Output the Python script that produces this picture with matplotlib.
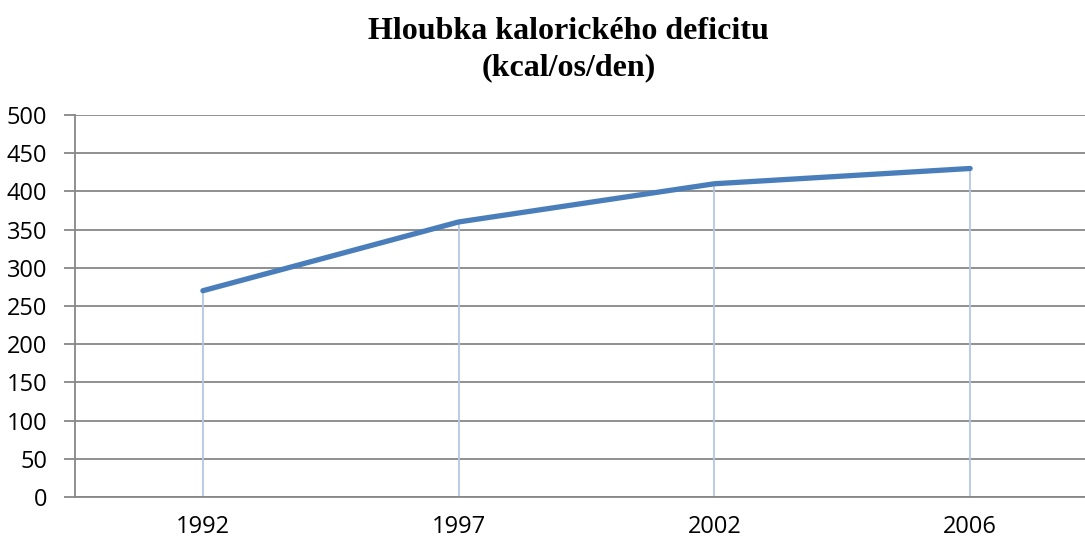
import numpy as np
import matplotlib.pyplot as plt

years = ['1992', '1997', '2002', '2006']
deficit = [270, 360, 410, 430]
yticks = [0, 50, 100, 150, 200, 250, 300, 350, 400, 450, 500]

fig = plt.figure(figsize=(10.85, 5.42), dpi=100)
ax = fig.add_axes([75/1085, 45/542, 1023/1085, 382/542])

x = np.arange(len(years))
grid_col = '#878787'

# drop lines
ax.vlines(x, 0, deficit, color='#b4c7e7', lw=1.3, zorder=2)
ax.plot(x, deficit, color='#4a7ebb', lw=3.8, solid_capstyle='round', zorder=3)

ax.set_xlim(-0.5, len(years) - 0.5)
ax.set_ylim(0, 500)
ax.set_yticks(yticks)
ax.set_xticks(x)
ax.set_xticklabels(years)
ax.yaxis.grid(True, color=grid_col, lw=1.3)
ax.set_axisbelow(True)

for s in ['top', 'right']:
    ax.spines[s].set_visible(False)
for s in ['left', 'bottom']:
    ax.spines[s].set_color(grid_col)
    ax.spines[s].set_linewidth(1.3)

ax.tick_params(axis='y', length=8, width=1.3, color=grid_col, pad=12,
               labelsize=17, labelcolor='black')
ax.tick_params(axis='x', length=0, pad=13, labelsize=17, labelcolor='black')
for lab in ax.get_xticklabels() + ax.get_yticklabels():
    lab.set_family(['Open Sans', 'DejaVu Sans'])

fig.text(0.524, 0.942, 'Hloubka kalorického deficitu', ha='center', va='center',
         family='Liberation Serif', weight='bold', fontsize=23)
fig.text(0.524, 0.875, '(kcal/os/den)', ha='center', va='center',
         family='Liberation Serif', weight='bold', fontsize=23)

fig.savefig('out.png', dpi=100)
